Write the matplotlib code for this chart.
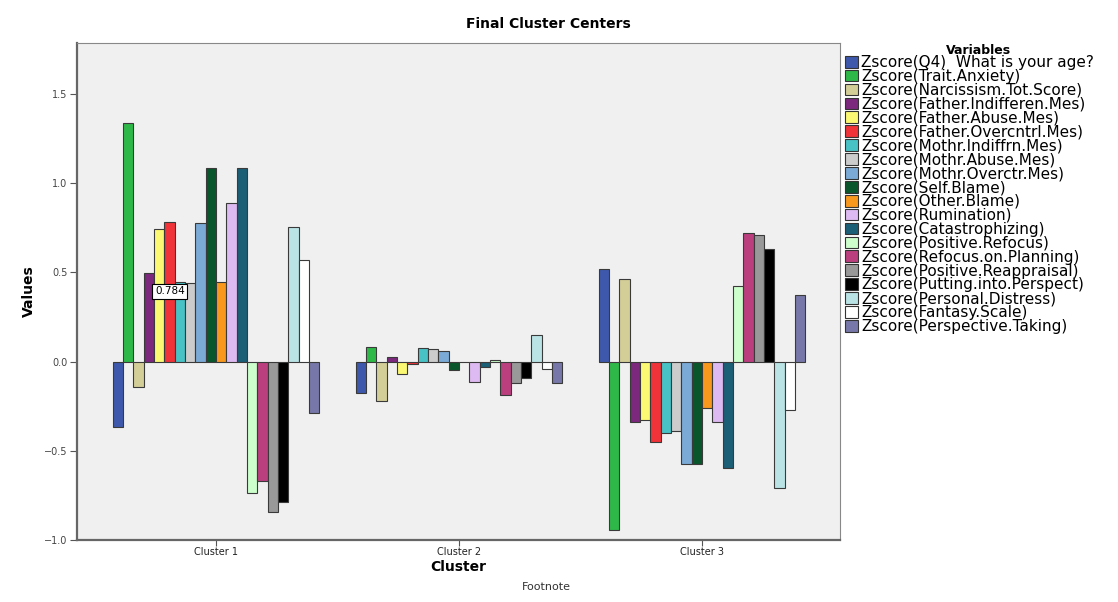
import numpy as np
import matplotlib.pyplot as plt

#%%

# Image resolution
width = 11.18
height = 6.02
dpi = 100

#%%

clusters = ["Cluster 1", "Cluster 2", "Cluster 3"]

variables = ["Zscore(Q4)  What is your age?",
             "Zscore(Trait.Anxiety)",
             "Zscore(Narcissism.Tot.Score)",
             "Zscore(Father.Indifferen.Mes)",
             "Zscore(Father.Abuse.Mes)",
             "Zscore(Father.Overcntrl.Mes)",
             "Zscore(Mothr.Indiffrn.Mes)",
             "Zscore(Mothr.Abuse.Mes)",
             "Zscore(Mothr.Overctr.Mes)",
             "Zscore(Self.Blame)",
             "Zscore(Other.Blame)",
             "Zscore(Rumination)",
             "Zscore(Catastrophizing)",
             "Zscore(Positive.Refocus)",
             "Zscore(Refocus.on.Planning)",
             "Zscore(Positive.Reappraisal)",
             "Zscore(Putting.into.Perspect)",
             "Zscore(Personal.Distress)",
             "Zscore(Fantasy.Scale)",
             "Zscore(Perspective.Taking)"]

colors = ["#3E58AC", "#2EB848", "#D3CE97", "#7C287D", "#FBF873",
          "#EF3338", "#48C2C5", "#CCCCCC", "#7AAAD5", "#0A562C",
          "#F8981D", "#DDBAF1", "#1A5F76", "#CCFFCC", "#BB3F7F",
          "#999999", "#000000", "#B9E3E5", "#FFFFFF", "#7778A9"]

# Cluster centers, one list per cluster (same order as variables)
cluster1 = [-0.365, 1.337, -0.140, 0.498, 0.745, 0.784, 0.446, 0.442, 0.779, 1.084,
            0.449, 0.891, 1.088, -0.736, -0.667, -0.841, -0.788, 0.757, 0.571, -0.288]
cluster2 = [-0.176, 0.081, -0.221, 0.024, -0.071, -0.013, 0.075, 0.070, 0.058, -0.045,
            -0.005, -0.114, -0.032, 0.009, -0.189, -0.120, -0.094, 0.148, -0.043, -0.120]
cluster3 = [0.521, -0.944, 0.464, -0.341, -0.328, -0.449, -0.399, -0.388, -0.573, -0.573,
            -0.262, -0.341, -0.597, 0.423, 0.723, 0.708, 0.629, -0.710, -0.270, 0.376]

yticks = [-1.0, -0.5, 0.0, 0.5, 1.0, 1.5]

centers = np.array([cluster1, cluster2, cluster3])

#%%

fig = plt.figure(figsize=(width, height), dpi=dpi)
ax = fig.add_axes([77 / 1118, 62 / 602, 763 / 1118, 497 / 602])
ax.set_facecolor("#F0F0F0")

barWidth = 0.0425
xpos = np.arange(len(clusters))
nVar = len(variables)
for j in range(nVar):
    ax.bar(xpos + (j - (nVar - 1) / 2) * barWidth, centers[:, j], barWidth,
           color=colors[j], edgecolor="#3a3a3a", linewidth=0.8,
           label=variables[j], zorder=3)

# hover label from the original viewer
ax.text(-0.19, 0.393, "0.784", fontsize=7.5, ha="center", va="center",
        bbox=dict(boxstyle="square,pad=0.25", fc="white", ec="black", lw=0.8),
        zorder=5)

ax.set_xlim(-0.572, 2.568)
ax.set_ylim(-1.0, 1.786)
ax.set_xticks(xpos)
ax.set_xticklabels(clusters, fontsize=7, color="#222222")
ax.set_yticks(yticks)
ax.set_yticklabels([("%.1f" % v).replace("-", "\u2212") for v in yticks],
                   fontsize=7, color="#444444")
ax.tick_params(axis="y", length=5, width=0.8, color="#555555", pad=2)
ax.tick_params(axis="x", length=4, width=0.8, color="#555555", pad=1)
for side in ["left", "bottom"]:
    ax.spines[side].set_color("#666666")
    ax.spines[side].set_linewidth(1.6)
for side in ["top", "right"]:
    ax.spines[side].set_color("#888888")
    ax.spines[side].set_linewidth(0.8)

ax.set_xlabel("Cluster", fontsize=10, fontweight="bold", labelpad=2)
ax.set_ylabel("Values", fontsize=10, fontweight="bold", labelpad=6)

fig.text(548 / 1118, 1 - 24 / 602, "Final Cluster Centers", fontsize=10,
         fontweight="bold", ha="center", va="center")
fig.text(546 / 1118, 1 - 587 / 602, "Footnote", fontsize=8,
         color="#333333", ha="center", va="center")

# legend title drawn on its own so the tight rows don't pull it down
fig.text(978 / 1118, 1 - 50 / 602, "Variables", fontsize=9,
         fontweight="bold", ha="center", va="center")
leg = fig.legend(loc="upper left", bbox_to_anchor=(845 / 1118, 1 - 55 / 602),
                 frameon=False, fontsize=11,
                 handlelength=0.85, handleheight=0.8, handletextpad=0.2,
                 labelspacing=-0.072, borderpad=0, borderaxespad=0)
for h in leg.legend_handles:
    h.set_edgecolor("#333333")
    h.set_linewidth(0.8)

plt.savefig("out.png", dpi=dpi)
